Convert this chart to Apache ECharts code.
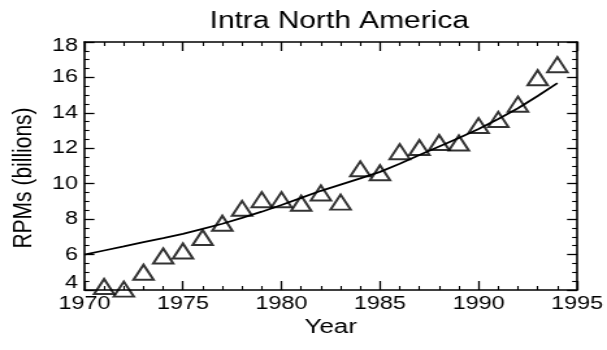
<!DOCTYPE html>
<html>
<head>
<meta charset="utf-8">
<script src="https://cdn.jsdelivr.net/npm/echarts@6/dist/echarts.min.js"></script>
<style>
html,body{margin:0;padding:0;background:#fff;overflow:hidden;}
#chart{width:467px;height:350px;transform:scaleX(1.2998);transform-origin:0 0;}
</style>
</head>
<body>
<div id="chart"></div>
<script>
// Observed data (RPMs, billions)
const years = [1971,1972,1973,1974,1975,1976,1977,1978,1979,1980,1981,1982,1983,1984,1985,1986,1987,1988,1989,1990,1991,1992,1993,1994];
const rpms  = [4.2,4.05,5.0,5.92,6.2,6.96,7.77,8.61,9.1,9.1,8.9,9.48,8.96,10.84,10.62,11.81,12.04,12.33,12.3,13.28,13.63,14.49,15.98,16.72];
// Fitted curve
const fitYears  = [1970,1971,1972,1973,1974,1975,1976,1977,1978,1979,1980,1981,1982,1983,1984,1985,1986,1987,1988,1989,1990,1991,1992,1993,1994];
const fitValues = [6.00,6.23,6.46,6.70,6.93,7.17,7.45,7.74,8.07,8.42,8.80,9.20,9.60,9.95,10.30,10.67,11.13,11.62,12.10,12.58,13.09,13.65,14.26,14.95,15.68];
// Axis settings
const xMin = 1970, xMax = 1995, xStep = 5;
const yMin = 4, yMax = 18, yStep = 2;
const titleText = 'Intra North America';
const xName = 'Year';
const yName = 'RPMs (billions)';

const FONT = 'Liberation Sans, Arial, Helvetica, sans-serif';
const chart = echarts.init(document.getElementById('chart'), null, {renderer:'canvas'});

const lineStyle = {color:'#000', width:1.6};
function xAx(pos, labels){
  return {
    type:'value', position:pos, min:xMin, max:xMax, interval:xStep,
    axisLine:{show:true, onZero:false, lineStyle:lineStyle},
    axisTick:{show:true, inside:true, length:9, lineStyle:{color:'#000', width:1.3}},
    minorTick:{show:true, splitNumber:5, length:4, lineStyle:{color:'#000', width:1.1}},
    splitLine:{show:false},
    axisLabel:{show:labels, color:'#000', fontSize:18, fontFamily:FONT, margin:5,
      formatter:function(v){ return String(v); }},
    name: labels ? xName : '', nameLocation:'middle', nameGap:27,
    nameTextStyle:{color:'#000', fontSize:20, fontFamily:FONT}
  };
}
function yAx(pos, labels){
  return {
    type:'value', position:pos, min:yMin, max:yMax, interval:yStep,
    axisLine:{show:true, onZero:false, lineStyle:lineStyle},
    axisTick:{show:true, inside:true, length:7.7, lineStyle:{color:'#000', width:1.3}},
    minorTick:{show:true, splitNumber:4, length:3.8, lineStyle:{color:'#000', width:1.1}},
    splitLine:{show:false},
    axisLabel:{show:labels, color:'#000', fontSize:18, fontFamily:FONT, margin:5,
      formatter:function(v){ if(v===yMax) return '{hi|'+v+'}'; if(v===yMin) return '{lo|'+v+'}'; return String(v);},
      rich:{
        hi:{fontSize:18, fontFamily:FONT, color:'#000', padding:[9,0,0,0]},
        lo:{fontSize:18, fontFamily:FONT, color:'#000', padding:[0,0,14,0]}
      }
    },
    name: labels ? yName : '', nameLocation:'middle', nameGap:32,
    nameTextStyle:{color:'#000', fontSize:21, fontFamily:FONT, padding:[0,24,0,0]}
  };
}

chart.setOption({
  animation:false,
  backgroundColor:'#fff',
  title:{text:titleText, left:256, textAlign:'center', top:5,
    textStyle:{color:'#000', fontSize:23, fontWeight:'normal', fontFamily:FONT}},
  grid:{left:63.6, right:21.4, top:42, bottom:60, containLabel:false},
  xAxis:[xAx('bottom', true), xAx('top', false)],
  yAxis:[yAx('left', true), yAx('right', false)],
  series:[
    {type:'line', data:fitYears.map((y,i)=>[y, fitValues[i]]), showSymbol:false, symbol:'none',
      lineStyle:{color:'#000', width:1.8}, z:2},
    {type:'scatter', data:years.map((y,i)=>[y, rpms[i]]), symbol:'triangle', symbolSize:[15.4,15],
      itemStyle:{color:'rgba(0,0,0,0)', borderColor:'#000', borderWidth:2}, clip:false, z:3}
  ]
});
</script>
</body>
</html>
